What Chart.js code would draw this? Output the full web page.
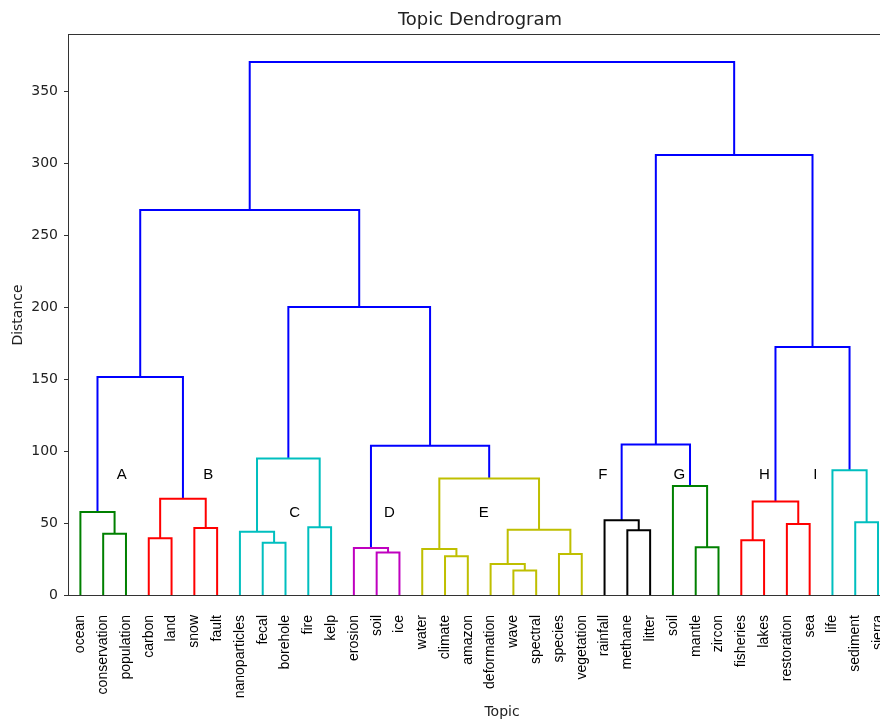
<!DOCTYPE html>
<html>
<head>
<meta charset="utf-8">
<script src="https://cdn.jsdelivr.net/npm/chart.js@4.4.1/dist/chart.umd.min.js"></script>
<style>
  html, body { margin: 0; padding: 0; background: #fff; overflow: hidden; width: 880px; height: 719px; }
  #wrap { position: absolute; left: 0; top: 0; width: 960px; height: 719px; }
</style>
</head>
<body>
<div id="wrap"><canvas id="c" width="960" height="719"></canvas></div>
<script>
// ---------------- data ----------------
const leafLabels = ['ocean','conservation','population','carbon','land','snow','fault',
  'nanoparticles','fecal','borehole','fire','kelp','erosion','soil','ice','water','climate',
  'amazon','deformation','wave','spectral','species','vegetation','rainfall','methane','litter',
  'soil','mantle','zircon','fisheries','lakes','restoration','sea','life','sediment','sierra'];

// linkage: node ids 0..35 are leaves, merge k creates node 36+k
const mergeLeft   = [ 1,  0,  3,  5, 38, 37,  8,  7, 10, 43, 13, 12, 16, 15, 19, 18, 21, 51, 49, 47, 45, 41, 24, 23, 27, 26, 59, 29, 31, 63, 34, 33, 65, 62, 57];
const mergeRight  = [ 2, 36,  4,  6, 39, 40,  9, 42, 11, 44, 14, 46, 17, 48, 20, 50, 22, 52, 53, 54, 55, 56, 25, 58, 28, 60, 61, 30, 32, 64, 35, 66, 67, 68, 69];
const mergeHeight = [42.6, 57.6, 39.4, 46.5, 66.9, 151.5, 36.3, 44.0, 47.0, 94.8, 29.6, 32.6,
  26.9, 31.9, 17.1, 21.5, 28.5, 45.4, 81.0, 103.6, 200.0, 267.5, 44.9, 51.9, 33.1, 75.7, 104.6,
  38.0, 49.3, 65.0, 50.5, 86.6, 172.2, 305.6, 370.3];
const mergeGroup  = ['g','g','r','r','r','b','c','c','c','c','m','m','y','y','y','y','y','y','y','b','b','b',
  'k','k','g','g','b','r','r','r','c','c','b','b','b'];

const clusterNames = ['A','B','C','D','E','F','G','H','I'];
const clusterX     = [23.2, 61.1, 99.0, 140.6, 182.0, 234.2, 267.8, 305.1, 327.5];
const clusterY     = [83.5, 83.5, 57.4, 57.4, 57.4, 83.5, 83.5, 83.5, 83.5];

const yTicks = [0, 50, 100, 150, 200, 250, 300, 350];

// ---------------- build ----------------
const palette = { b: '#0000ff', g: '#008000', r: '#ff0000', c: '#00bfbf', m: '#bf00bf', y: '#bfbf00', k: '#000000' };
const nLeaves = leafLabels.length;
const nodeX = [], nodeH = [];
for (let i = 0; i < nLeaves; i++) { nodeX.push(10 * i + 5); nodeH.push(0); }
const datasets = [];
for (let k = 0; k < mergeHeight.length; k++) {
  const l = mergeLeft[k], r = mergeRight[k], h = mergeHeight[k];
  nodeX.push((nodeX[l] + nodeX[r]) / 2);
  nodeH.push(h);
  datasets.push({
    data: [ {x: nodeX[l], y: nodeH[l]}, {x: nodeX[l], y: h}, {x: nodeX[r], y: h}, {x: nodeX[r], y: nodeH[r]} ],
    borderColor: palette[mergeGroup[k]],
    backgroundColor: palette[mergeGroup[k]],
    borderWidth: 2,
    showLine: true,
    fill: false,
    tension: 0,
    pointRadius: 0,
    pointHoverRadius: 0,
    borderJoinStyle: 'miter',
    borderCapStyle: 'butt'
  });
}

const frame = {
  id: 'frame',
  afterDatasetsDraw(chart) {
    const {ctx, chartArea: a} = chart;
    ctx.save();
    ctx.strokeStyle = '#333';
    ctx.lineWidth = 1;
    ctx.strokeRect(Math.round(a.left) - 0.5, Math.round(a.top) - 0.5, Math.round(a.right - a.left) + 1, Math.round(a.bottom - a.top) + 1);
    ctx.restore();
  }
};
const clusterText = {
  id: 'clusterText',
  afterDatasetsDraw(chart) {
    const {ctx, scales} = chart;
    ctx.save();
    ctx.fillStyle = '#000';
    ctx.font = '15px "Liberation Sans", Arial, sans-serif';
    ctx.textAlign = 'center';
    ctx.textBaseline = 'middle';
    clusterNames.forEach((t, i) => {
      ctx.fillText(t, scales.x.getPixelForValue(clusterX[i]), scales.y.getPixelForValue(clusterY[i]));
    });
    ctx.restore();
  }
};

new Chart(document.getElementById('c'), {
  type: 'scatter',
  data: { datasets },
  plugins: [frame, clusterText],
  options: {
    responsive: false,
    animation: false,
    events: [],
    layout: { padding: 0 },
    plugins: {
      legend: { display: false },
      tooltip: { enabled: false },
      title: {
        display: true,
        text: 'Topic Dendrogram',
        color: '#222',
        font: { family: '"DejaVu Sans", sans-serif', size: 18, weight: 'normal', lineHeight: 1.2 },
        padding: { top: 9.2, bottom: 4.2 }
      }
    },
    scales: {
      x: {
        type: 'linear',
        min: 0,
        max: 380,
        afterBuildTicks: s => { s.ticks = leafLabels.map((_, i) => ({ value: 10 * i + 5 })); },
        afterFit: s => { s.height = 124; },
        grid: { display: false, drawTicks: false, tickLength: 0 },
        border: { display: false },
        ticks: {
          autoSkip: false,
          minRotation: 90,
          maxRotation: 90,
          padding: 20,
          color: '#000',
          font: { family: '"Liberation Sans", Arial, sans-serif', size: 14 },
          callback: (v, i) => leafLabels[i]
        },
        title: {
          display: true,
          text: 'Topic',
          color: '#222',
          font: { family: '"DejaVu Sans", sans-serif', size: 14, lineHeight: 1.0 },
          padding: { top: 0, bottom: 0 }
        }
      },
      y: {
        type: 'linear',
        position: 'left',
        min: 0,
        max: 389,
        afterBuildTicks: s => { s.ticks = yTicks.map(v => ({ value: v })); },
        afterFit: s => { s.width = 69; },
        grid: { display: true, drawOnChartArea: false, drawTicks: true, tickLength: 5, color: '#333', lineWidth: 1 },
        border: { display: false },
        ticks: {
          padding: 6,
          color: '#222',
          font: { family: '"DejaVu Sans", sans-serif', size: 14 }
        },
        title: {
          display: true,
          text: 'Distance',
          color: '#222',
          font: { family: '"DejaVu Sans", sans-serif', size: 14, lineHeight: 1.2 },
          padding: { top: 10, bottom: 0 }
        }
      },
      yRight: {
        type: 'linear',
        position: 'right',
        display: true,
        afterFit: s => { s.width = 25; },
        grid: { display: false },
        border: { display: false },
        ticks: { display: false }
      }
    }
  }
});
</script>
</body>
</html>
